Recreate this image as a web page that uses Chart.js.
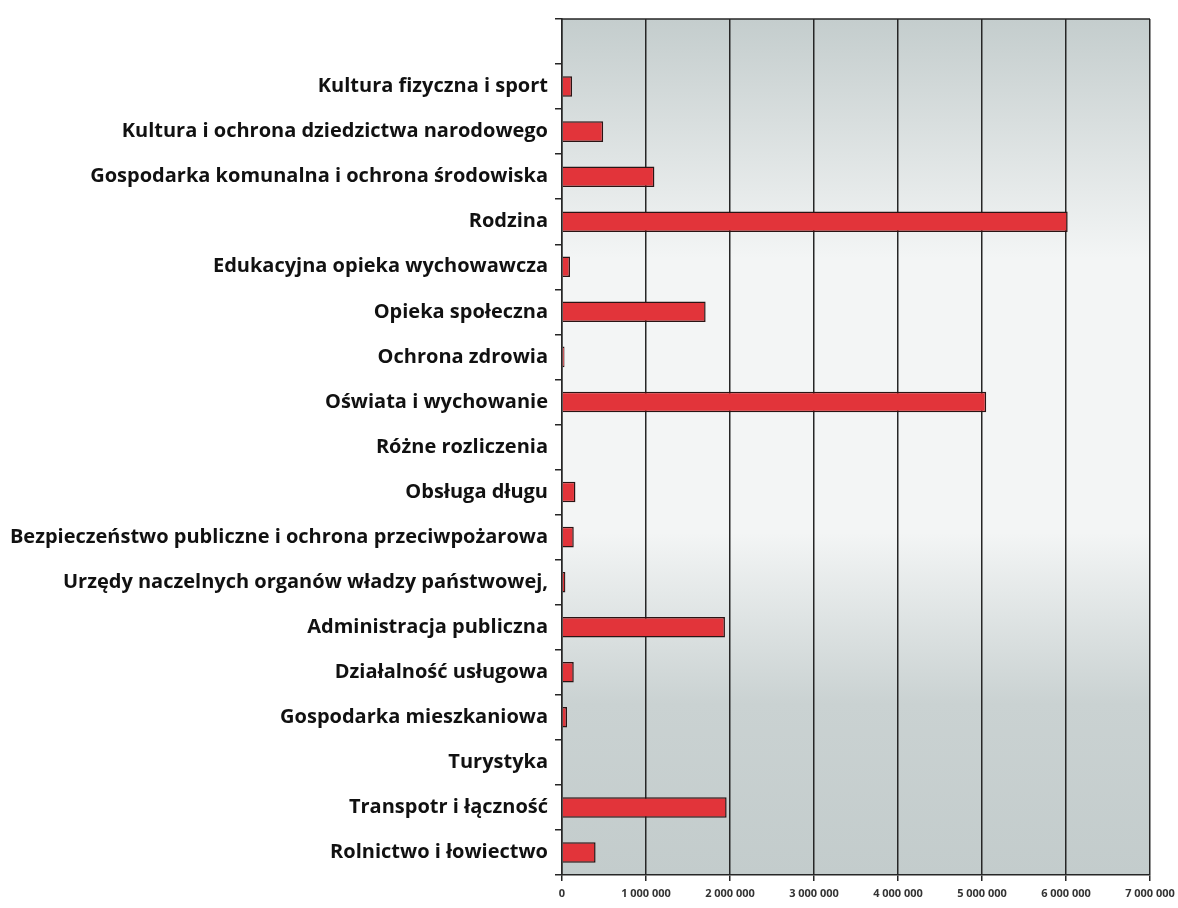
<!DOCTYPE html>
<html>
<head>
<meta charset="utf-8">
<script src="https://cdn.jsdelivr.net/npm/chart.js@4"></script>
<style>
  body { margin: 0; background: #ffffff; }
  #wrap { width: 1178px; height: 908px; }
</style>
</head>
<body>
<div id="wrap"><canvas id="expChart" width="1178" height="908"></canvas></div>
<script>
// Categories, top to bottom as in the chart (the first slot is empty in the original)
const categories = [
  '',
  'Kultura fizyczna i sport',
  'Kultura i ochrona dziedzictwa narodowego',
  'Gospodarka komunalna i ochrona środowiska',
  'Rodzina',
  'Edukacyjna opieka wychowawcza',
  'Opieka społeczna',
  'Ochrona zdrowia',
  'Oświata i wychowanie',
  'Różne rozliczenia',
  'Obsługa długu',
  'Bezpieczeństwo publiczne i ochrona przeciwpożarowa',
  'Urzędy naczelnych organów władzy państwowej,',
  'Administracja publiczna',
  'Działalność usługowa',
  'Gospodarka mieszkaniowa',
  'Turystyka',
  'Transpotr i łączność',
  'Rolnictwo i łowiectwo'
];

// Amounts
const amounts = [
  null, 120000, 490000, 1100000, 6020000, 95000, 1710000, 30000, 5050000, 0,
  160000, 140000, 40000, 1940000, 140000, 60000, 0, 1960000, 400000
];

// X axis ticks
const xTicks = [0, 1000000, 2000000, 3000000, 4000000, 5000000, 6000000, 7000000];
const xMax = 7000000;

function formatTick(v) {
  return String(v).replace(/\B(?=(\d{3})+(?!\d))/g, ' ');
}

// Grey-white-grey fill behind the plot area plus the top frame line
const plotBackground = {
  id: 'plotBackground',
  beforeDraw(chart) {
    const { ctx, chartArea: a } = chart;
    const g = ctx.createLinearGradient(0, a.top, 0, a.bottom);
    g.addColorStop(0, '#c4cdcd');
    g.addColorStop(0.28, '#f3f5f5');
    g.addColorStop(0.6, '#f3f5f5');
    g.addColorStop(0.8, '#cad2d2');
    g.addColorStop(1, '#c3cccc');
    ctx.save();
    ctx.fillStyle = g;
    ctx.fillRect(a.left, a.top, a.right - a.left, a.bottom - a.top);
    ctx.restore();
  },
  afterDraw(chart) {
    const { ctx, chartArea: a } = chart;
    ctx.save();
    ctx.strokeStyle = '#262626';
    ctx.lineWidth = 1.5;
    ctx.beginPath();
    ctx.moveTo(a.left, a.top);
    ctx.lineTo(a.right, a.top);
    ctx.stroke();
    ctx.restore();
  }
};

const ctx = document.getElementById('expChart').getContext('2d');

new Chart(ctx, {
  type: 'bar',
  data: {
    labels: categories,
    datasets: [{
      data: amounts,
      backgroundColor: '#e2343a',
      borderColor: '#2a1414',
      borderWidth: 1.5,
      barPercentage: 0.48,
      categoryPercentage: 0.95
    }]
  },
  options: {
    indexAxis: 'y',
    responsive: false,
    animation: false,
    layout: { padding: { top: 15, right: 28, left: 4, bottom: 0 } },
    plugins: {
      legend: { display: false },
      tooltip: { enabled: false }
    },
    scales: {
      x: {
        min: 0,
        max: xMax,
        afterBuildTicks: scale => {
          scale.ticks = xTicks.map(v => ({ value: v }));
        },
        afterFit: scale => {
          scale.height = 33;
          scale.paddingLeft = 0;
          scale.paddingRight = 0;
        },
        grid: {
          color: '#262626',
          lineWidth: 1.5,
          tickLength: 6,
          tickColor: '#262626'
        },
        border: { color: '#262626', width: 1.5 },
        ticks: {
          maxRotation: 0,
          autoSkip: false,
          padding: 6,
          color: '#333333',
          font: { family: 'Open Sans', weight: 'bold', size: 11 },
          callback: v => formatTick(v)
        }
      },
      y: {
        afterFit: scale => {
          scale.width = 558;
        },
        grid: {
          offset: true,
          drawOnChartArea: false,
          tickLength: 7,
          tickColor: '#262626',
          lineWidth: 1.5
        },
        border: { color: '#262626', width: 1.5 },
        ticks: {
          autoSkip: false,
          padding: 7,
          color: '#111111',
          font: { family: 'Open Sans', weight: 'bold', size: 20 }
        }
      }
    }
  },
  plugins: [plotBackground]
});
</script>
</body>
</html>
